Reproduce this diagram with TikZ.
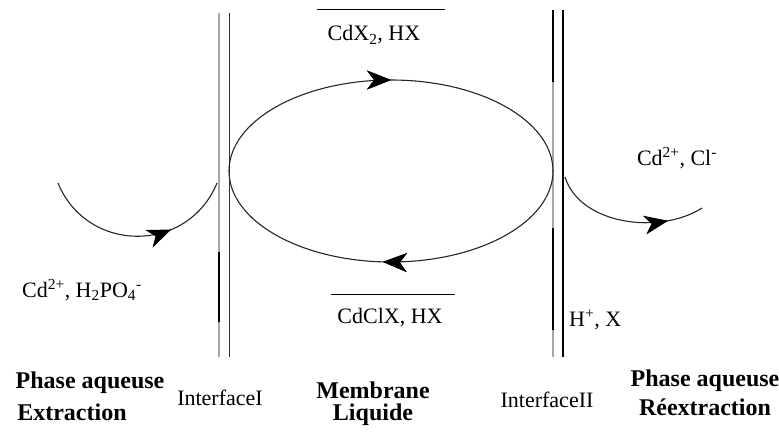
\documentclass[tikz,border=0pt]{standalone}
\usepackage{fontspec}
\setmainfont{Liberation Serif}
\usetikzlibrary{arrows.meta,decorations.markings}

\tikzset{
  lbl/.style={inner sep=1pt,font=\fontsize{22}{24}\selectfont},
  phase/.style={inner sep=1pt,align=center,font=\fontsize{24}{26}\selectfont\bfseries},
  flux/.style={line width=1.1pt,black!85,postaction={decorate},
    decoration={markings,mark=at position #1 with {\arrow[black]{Stealth[length=24pt,width=19pt,inset=7pt]}}}},
}

\begin{document}
\begin{tikzpicture}[x=1pt,y=1pt]
  \useasboundingbox (0,0) rectangle (779,434);

  % interface I
  \draw[line width=2pt,gray!70] (219,421) -- (219,77);
  \draw[line width=2.5pt] (219,182) -- (219,112);
  \draw[line width=1pt,black!80] (229,421) -- (229,77);

  % interface II
  \draw[line width=1.6pt,gray!70] (553,424) -- (553,77);
  \draw[line width=2.5pt] (553,424) -- (553,352);
  \draw[line width=2.5pt] (553,206) -- (553,104);
  \draw[line width=1.2pt] (563,424) -- (563,77);

  % cycle dans la membrane
  \draw[flux=0.25,flux=0.76] (229,263)
    arc[start angle=180,end angle=-180,x radius=162,y radius=91];

  % entree / sortie
  \coordinate (aqin) at (58,251);
  \coordinate (ifI) at (217,251);
  \coordinate (ifII) at (565,257);
  \coordinate (aqout) at (702,226);
  \draw[flux=0.67] (aqin) .. controls +(29,-71) and +(-29,-71) .. (ifI);
  \draw[flux=0.77] (ifII) .. controls (580,209) and (660,199) .. (aqout);

  % especes
  \node[lbl] (cdx) at (374,399) {CdX\textsubscript{2}, HX};
  \draw[line width=1pt] (317,424) -- (445,424);
  \node[lbl] (cdcl) at (390,116) {CdClX, HX};
  \draw[line width=1pt] (331,139) -- (455,139);
  \node[lbl] (cdin) at (82,144) {Cd\textsuperscript{2+}, H\textsubscript{2}PO\textsubscript{4}\textsuperscript{-}};
  \node[lbl] (cdout) at (677,276) {Cd\textsuperscript{2+}, Cl\textsuperscript{-}};
  \node[lbl,anchor=west] (hx) at (568,114) {H\textsuperscript{+}, X};

  % legendes du bas
  \node[phase] (ph1) at (90,51) {Phase aqueuse};
  \node[phase] (ext) at (72,22) {Extraction};
  \node[lbl] (ifIl) at (220,36) {InterfaceI};
  \node[phase] (mem) at (373,44) {Membrane};
  \node[phase] (liq) at (373,19) {Liquide};
  \node[lbl] (ifIIl) at (547,34) {InterfaceII};
  \node[phase] (ph2) at (705,53) {Phase aqueuse};
  \node[phase] (reex) at (705,27) {Réextraction};
\end{tikzpicture}
\end{document}
